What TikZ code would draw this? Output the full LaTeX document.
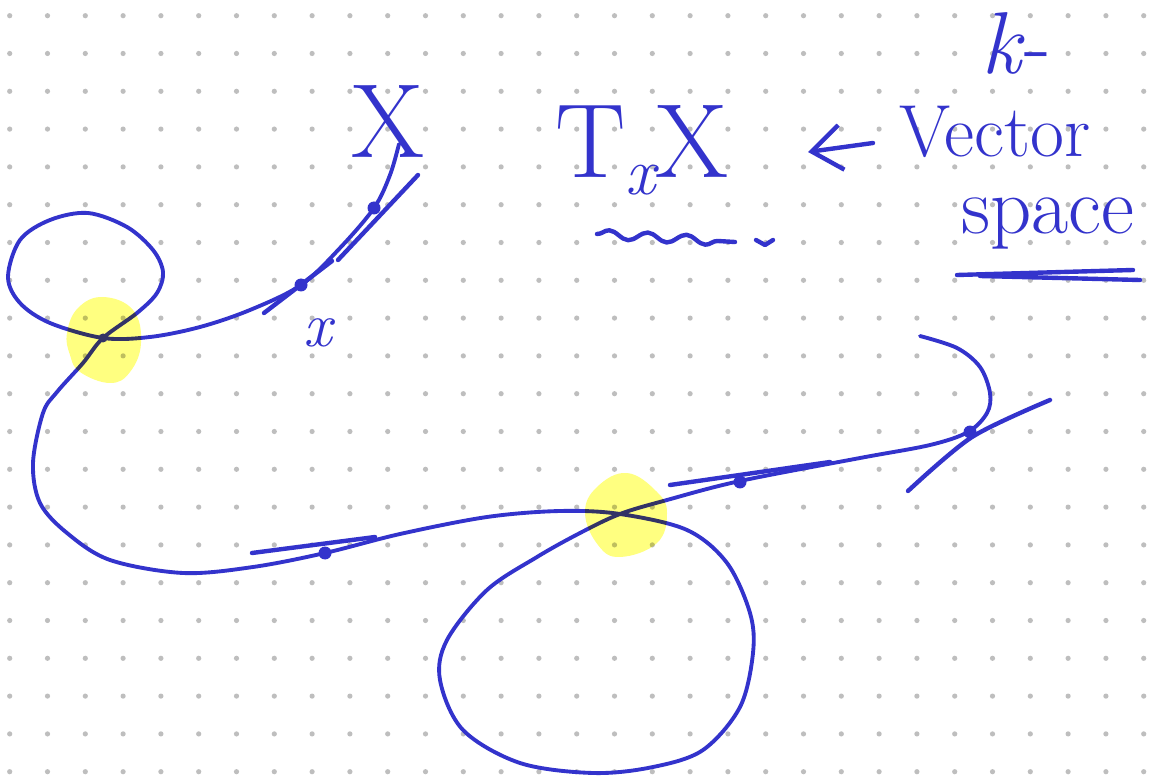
\documentclass[tikz,border=0pt]{standalone}
\usepackage{tikz}
\usetikzlibrary{arrows.meta,decorations.pathmorphing}
\usepackage{xcolor}
\definecolor{tinta}{HTML}{3333CC}
\definecolor{marcador}{HTML}{FFFF80}
\definecolor{punto}{HTML}{BEBEBE}

\begin{document}
\begin{tikzpicture}[x=0.02cm, y=-0.02cm, line cap=round, line join=round,
      c/.style={draw=tinta, line width=2.2pt},
      tg/.style={draw=tinta, line width=2.5pt},
      pt/.style={circle, fill=tinta, inner sep=0pt, minimum size=0.26cm},
      hand/.style={text=tinta, inner sep=0pt, anchor=base}]
    % paper
    \fill[white] (0,0) rectangle (1152,776);
    \useasboundingbox (0,0) rectangle (1152,776);
    \foreach \i in {0,...,30}
      \foreach \j in {0,...,20}
        \fill[punto] (9.7+37.8*\i, 15.7+37.8*\j) circle[radius=2.6];
    % curve
    \draw[c] plot[smooth, tension=0.55] coordinates {
      (399,144) (390,175) (374,208) (340,248) (301,285) (250,310) (200,327)
      (150,337) (103,338) (50,323) (20,303) (8,277) (20,240) (50,220) (88,213)
      (127,227) (153,250) (163,272) (157,293) (137,313) (103,338) (83,363)
      (57,392) (43,413) (33,463) (40,503) (67,533) (110,560) (183,573)
      (253,567) (325,553) (400,534) (487,517) (560,511) (620,514) (687,530)
      (727,563) (750,613) (753,653) (740,707) (703,750) (653,767) (593,773)
      (520,763) (463,730) (440,680) (447,640) (487,590) (537,557) (580,533)
      (620,514) (667,500) (740,481) (860,458) (930,445) (968,432) (987,413)
      (990,393) (980,367) (957,348) (920,336)};
    % tangent lines
    \draw[tg] (264,313) -- (332,261);
    \draw[tg] (338,260) -- (418,175);
    \draw[tg] (252,553) -- (375,537);
    \draw[tg] (670,485) -- (830,462);
    \draw[tg] plot[smooth] coordinates {(908,491) (972,437) (1050,400)};
    % points
    \node[pt] (xpt) at (301,285) {};
    \node[pt] (ypt) at (374,208) {};
    \node[pt] (apt) at (325,553) {};
    \node[pt] (bpt) at (740,482) {};
    \node[pt] (cpt) at (970,432) {};
    \node[pt, minimum size=0.18cm] (lpt) at (103,338) {};
    % labels
    \node[hand, font=\fontsize{60}{66}\selectfont] (esp) at (388,158) {X};
    \node[hand, font=\fontsize{36}{40}\selectfont\itshape] (xlab) at (318,347) {x};
    \node[hand, font=\fontsize{60}{66}\selectfont] (txx) at (642,178)
      {T\raisebox{-0.16em}{\fontsize{38}{40}\selectfont\itshape x}X};
    \node[hand, font=\fontsize{50}{56}\selectfont] (kk) at (1016,74) {\textit{k}-};
    \node[hand, font=\fontsize{42}{48}\selectfont] (vec) at (995,157) {Vector};
    \node[hand, font=\fontsize{46}{50}\selectfont] (spc) at (1048,234) {space};
    % arrow and underlines
    \coordinate (arrS) at (873,143);
    \coordinate (arrE) at (808,152);
    \draw[tg, -{Straight Barb[length=6mm 0 0, width=9mm]}] (arrS) -- (arrE);
    \draw[tg, decorate, decoration={snake, amplitude=2.5, segment length=22}]
      (597,234) -- (735,242);
    \draw[tg] (756,240) -- (765,245) -- (773,240);
    \draw[tg] (957,275) -- (1133,270);
    \draw[tg] (980,276) -- (1140,280);
    % highlights
    \begin{scope}[blend mode=multiply]
      \fill[marcador] plot[smooth cycle, tension=0.7] coordinates {
        (103,297) (133,310) (141,343) (130,372) (110,383) (80,372) (70,355)
        (67,333) (78,308)};
      \fill[marcador] plot[smooth cycle, tension=0.7] coordinates {
        (627,473) (657,492) (667,513) (657,543) (620,557) (598,545) (585,513)
        (597,487)};
    \end{scope}
\end{tikzpicture}
\end{document}
